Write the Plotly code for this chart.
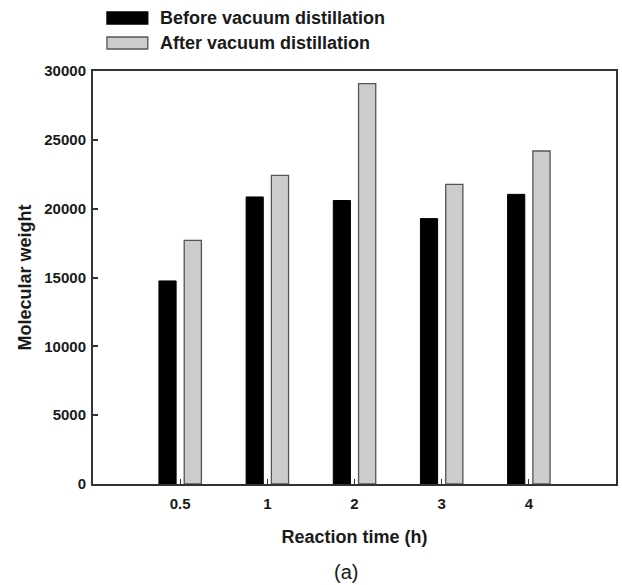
import plotly.graph_objects as go

categories = ["0.5", "1", "2", "3", "4"]
before_vals = [14750, 20850, 20590, 19280, 21040]
after_vals = [17700, 22420, 29080, 21770, 24190]
y_ticks = [0, 5000, 10000, 15000, 20000, 25000, 30000]
series_names = ["Before vacuum distillation", "After vacuum distillation"]

FONT = "Liberation Sans, Arial, sans-serif"
AXC = "#333333"
TXT = "#1a1a1a"

fig = go.Figure()
fig.add_trace(go.Bar(x=categories, y=before_vals, name=series_names[0],
                     marker=dict(color="#000000", line=dict(color="#000000", width=1)),
                     showlegend=False))
fig.add_trace(go.Bar(x=categories, y=after_vals, name=series_names[1],
                     marker=dict(color="#cccccc", line=dict(color="#555555", width=1.3)),
                     showlegend=False))

fig.update_layout(
    width=622, height=585,
    margin=dict(l=93, r=4, t=71, b=101),
    paper_bgcolor="white", plot_bgcolor="white",
    barmode="group", bargap=0.42, bargroupgap=0.32,
    font=dict(family=FONT, color=TXT),
)
fig.update_xaxes(
    type="category", range=[-1, 5],
    showline=True, linewidth=2, linecolor=AXC, mirror=True,
    ticks="inside", ticklen=5, tickwidth=1, tickcolor=AXC,
    showgrid=False, zeroline=False, ticklabelstandoff=5,
    tickfont=dict(size=15, weight="bold", family=FONT, color=TXT),
    title=dict(text="Reaction time (h)", font=dict(size=18, weight="bold", family=FONT, color=TXT), standoff=19),
)
fig.update_yaxes(
    range=[0, 30000], tickvals=y_ticks, ticktext=[str(v) for v in y_ticks],
    showline=True, linewidth=2, linecolor=AXC, mirror=True,
    ticks="inside", ticklen=5, tickwidth=1.5, tickcolor=AXC,
    showgrid=False, zeroline=False, ticklabelstandoff=2,
    tickfont=dict(size=15, weight="bold", family=FONT, color=TXT),
    title=dict(text="Molecular weight", font=dict(size=18, weight="bold", family=FONT, color=TXT), standoff=8),
)

# custom legend
fills = ["#000000", "#cccccc"]
lines = ["#000000", "#555555"]
ys = [(1.1138, 1.1429), (1.0533, 1.0823)]
for i in range(2):
    fig.add_shape(type="rect", xref="paper", yref="paper",
                  x0=0.0267, x1=0.1048, y0=ys[i][0], y1=ys[i][1],
                  fillcolor=fills[i], line=dict(color=lines[i], width=1.3))
    fig.add_annotation(xref="paper", yref="paper", x=0.1238, y=(ys[i][0] + ys[i][1]) / 2,
                       xanchor="left", yanchor="middle", showarrow=False,
                       text=series_names[i],
                       font=dict(size=18, weight="bold", family=FONT, color=TXT))

fig.add_annotation(xref="paper", yref="paper", x=0.484, y=-0.213,
                   xanchor="center", yanchor="middle", showarrow=False,
                   text="(a)", font=dict(size=20, family=FONT, color=TXT))

fig.write_html("out.html")
